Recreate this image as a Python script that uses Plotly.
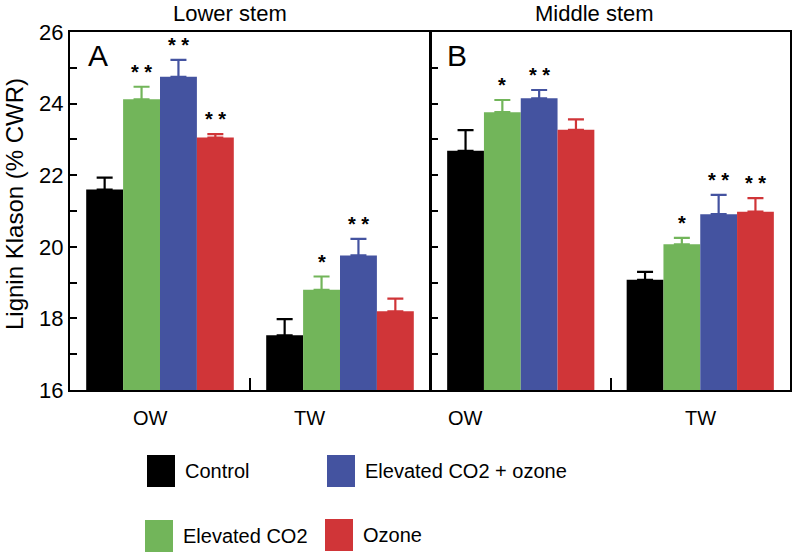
import plotly.graph_objects as go

W, H = 793, 554

treatments = ["Control", "Elevated CO2", "Elevated CO2 + ozone", "Ozone"]
colors = ["#000000", "#72b55a", "#4453a0", "#d03538"]
wood_types = ["OW", "TW"]
y_ticks = [16, 17, 18, 19, 20, 21, 22, 23, 24, 25, 26]
y_ticktext = ["16", "", "18", "", "20", "", "22", "", "24", "", "26"]

# Lower stem (panel A), order: Control, Elevated CO2, Elevated CO2 + ozone, Ozone
lower_ow_mean = [21.60, 24.12, 24.75, 23.05]
lower_ow_err = [0.33, 0.35, 0.47, 0.10]
lower_tw_mean = [17.53, 18.80, 19.76, 18.20]
lower_tw_err = [0.45, 0.37, 0.46, 0.35]
lower_ow_sig = ["", "**", "**", "**"]
lower_tw_sig = ["", "*", "**", ""]

# Middle stem (panel B)
middle_ow_mean = [22.68, 23.76, 24.15, 23.27]
middle_ow_err = [0.58, 0.34, 0.23, 0.29]
middle_tw_mean = [19.08, 20.07, 20.91, 20.98]
middle_tw_err = [0.22, 0.18, 0.54, 0.38]
middle_ow_sig = ["", "*", "**", ""]
middle_tw_sig = ["", "*", "**", "**"]

FONT = "Liberation Sans, Arial, Helvetica, sans-serif"
BARGAP = 0.18
n = len(treatments)
bw = (1 - BARGAP) / n

fig = go.Figure()
annotations = []

panels = [
    ("x", "y", lower_ow_mean, lower_ow_err, lower_tw_mean, lower_tw_err, lower_ow_sig, lower_tw_sig),
    ("x2", "y2", middle_ow_mean, middle_ow_err, middle_tw_mean, middle_tw_err, middle_ow_sig, middle_tw_sig),
]

for xa, ya, owm, owe, twm, twe, ows, tws in panels:
    for i, t in enumerate(treatments):
        means = [owm[i], twm[i]]
        errs = [owe[i], twe[i]]
        fig.add_trace(go.Bar(
            x=[0, 1], y=means, name=t, marker=dict(color=colors[i], line=dict(width=0)),
            error_y=dict(type="data", array=errs, arrayminus=[0, 0], symmetric=False,
                         color=colors[i], thickness=2.2, width=8),
            xaxis=xa, yaxis=ya, showlegend=False,
        ))
        off = -(1 - BARGAP) / 2 + bw * (i + 0.5)
        for k, sig in enumerate([ows[i], tws[i]]):
            if sig:
                annotations.append(dict(
                    x=k + off, y=means[k] + errs[k], xref=xa, yref=ya,
                    text="<b>" + " ".join(list(sig)) + "</b>", showarrow=False,
                    yanchor="bottom", yshift=2,
                    font=dict(size=20, color="black", family=FONT)))

def px(x):
    return x / W

def py(y):
    return 1 - y / H

axis_common = dict(showline=True, linecolor="black", linewidth=2, mirror=True,
                   showgrid=False, zeroline=False, automargin=False)

fig.update_layout(
    width=W, height=H, margin=dict(l=0, r=0, t=0, b=0, pad=0, autoexpand=False),
    paper_bgcolor="white", plot_bgcolor="white",
    barmode="group", bargap=BARGAP, bargroupgap=0,
    font=dict(family=FONT, color="black"),
    xaxis=dict(domain=[px(70), px(430)], range=[-0.5, 1.5], tickvals=[0.5],
               ticks="inside", ticklen=12, tickwidth=2, tickcolor="black",
               showticklabels=False, anchor="y", **axis_common),
    yaxis=dict(domain=[py(390), py(32)], range=[16, 26], tickvals=y_ticks,
               ticktext=y_ticktext, ticks="inside", ticklen=7, tickwidth=2,
               tickcolor="black", tickfont=dict(size=22, family=FONT), anchor="x",
               **axis_common),
    xaxis2=dict(domain=[px(431), px(790)], range=[-0.5, 1.5], tickvals=[0.5],
                ticks="inside", ticklen=12, tickwidth=2, tickcolor="black",
                showticklabels=False, anchor="y2", **axis_common),
    yaxis2=dict(domain=[py(390), py(32)], range=[16, 26], tickvals=y_ticks,
                ticks="inside", ticklen=7, tickwidth=2, tickcolor="black",
                showticklabels=False, anchor="x2", **axis_common),
)

def ann(text, x, y, size, xanchor="center", yanchor="middle", **kw):
    annotations.append(dict(text=text, x=px(x), y=py(y), xref="paper", yref="paper",
                            showarrow=False, xanchor=xanchor, yanchor=yanchor,
                            font=dict(size=size, color="black", family=FONT), **kw))

# Titles
ann("Lower stem", 230, 0, 22, yanchor="top", borderpad=0)
ann("Middle stem", 594, 0, 22, yanchor="top", borderpad=0)
# Panel letters
ann("A", 86, 56, 30, xanchor="left")
ann("B", 445, 56, 30, xanchor="left")
# Y title
ann("Lignin Klason (% CWR)", 14, 204, 24, textangle=-90)
# Group labels
for lbl, x in zip(wood_types + wood_types, [150, 309, 465, 700]):
    ann(lbl, x, 418, 20)

# Legend (squares + labels)
legend_pos = [(147, 455), (145, 520), (327, 455), (325, 519)]
shapes = []
for (lx, ly), t, c in zip(legend_pos, treatments, colors):
    shapes.append(dict(type="rect", xref="paper", yref="paper",
                       x0=px(lx), x1=px(lx + 28), y0=py(ly + 32), y1=py(ly),
                       fillcolor=c, line=dict(width=0)))
    ann(t, lx + 36, ly + 16, 20, xanchor="left")

fig.update_layout(annotations=annotations, shapes=shapes)
fig.write_html("out.html", config={"displayModeBar": False},
               post_script="document.body.style.margin='0';")
